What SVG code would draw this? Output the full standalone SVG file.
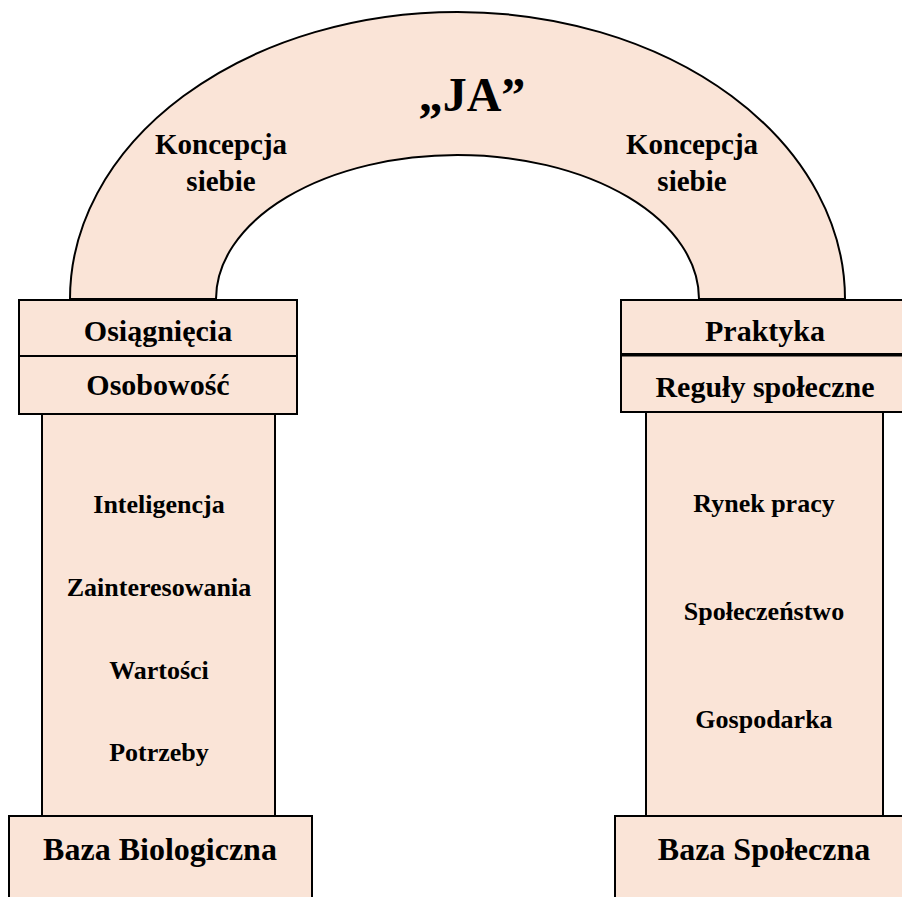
<svg xmlns="http://www.w3.org/2000/svg" width="902" height="897" viewBox="0 0 902 897">
<style>
.s{fill:#fae4d7;stroke:#000;stroke-width:2}
.t{font-family:"Liberation Serif","Times New Roman",serif;font-weight:bold;text-anchor:middle;fill:#000}
</style>
<rect width="902" height="897" fill="#fff"/>
<g id="arch">
<path class="s" d="M70,299 A387.5,287 0 0 1 845,299 L699,299 A241.5,144 0 0 0 216,299 Z"/>
<text class="t" x="472" y="111" font-size="48">„JA”</text>
<text class="t" x="221" y="154" font-size="29">Koncepcja</text>
<text class="t" x="221" y="191" font-size="29">siebie</text>
<text class="t" x="692" y="154" font-size="29">Koncepcja</text>
<text class="t" x="692" y="191" font-size="29">siebie</text>
</g>
<g id="left-column">
<rect class="s" x="42" y="414" width="233" height="403"/>
<text class="t" x="159" y="513" font-size="26">Inteligencja</text>
<text class="t" x="159" y="596" font-size="26">Zainteresowania</text>
<text class="t" x="159" y="679" font-size="26">Wartości</text>
<text class="t" x="159" y="761" font-size="26">Potrzeby</text>
</g>
<g id="left-capital">
<rect class="s" x="19" y="300" width="278" height="56"/>
<text class="t" x="158" y="341" font-size="30">Osiągnięcia</text>
<rect class="s" x="19" y="356" width="278" height="58"/>
<text class="t" x="158" y="395" font-size="30">Osobowość</text>
</g>
<g id="left-base">
<rect class="s" x="9" y="816" width="303" height="90"/>
<text class="t" x="160" y="860" font-size="32">Baza Biologiczna</text>
</g>
<g id="right-column">
<rect class="s" x="646" y="412" width="237" height="405"/>
<text class="t" x="764" y="512" font-size="26">Rynek pracy</text>
<text class="t" x="764" y="620" font-size="26">Społeczeństwo</text>
<text class="t" x="764" y="728" font-size="26">Gospodarka</text>
</g>
<g id="right-capital">
<rect class="s" x="621" y="300" width="290" height="54"/>
<text class="t" x="765" y="341" font-size="30">Praktyka</text>
<rect class="s" x="621" y="355" width="290" height="57"/>
<line x1="621" y1="355" x2="902" y2="355" stroke="#000" stroke-width="3"/>
<text class="t" x="765" y="397" font-size="30">Reguły społeczne</text>
</g>
<g id="right-base">
<rect class="s" x="615" y="816" width="296" height="90"/>
<text class="t" x="764" y="860" font-size="32">Baza Społeczna</text>
</g>
</svg>
